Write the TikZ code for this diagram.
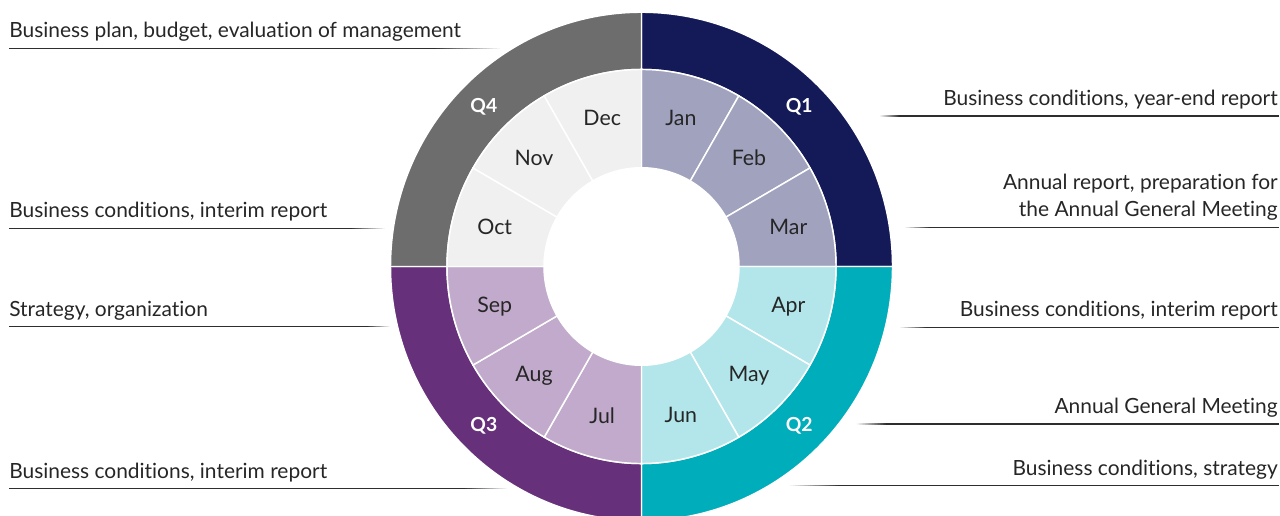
\documentclass[tikz,border=0pt]{standalone}
\usepackage{fontspec}
\setmainfont{Lato}[Ligatures=NoCommon]
\usetikzlibrary{positioning}

\definecolor{qonedark}{HTML}{131A57}
\definecolor{qonelight}{HTML}{A0A2BE}
\definecolor{qtwodark}{HTML}{00ADBB}
\definecolor{qtwolight}{HTML}{B2E6EA}
\definecolor{qthreedark}{HTML}{66307A}
\definecolor{qthreelight}{HTML}{C1AACB}
\definecolor{qfourdark}{HTML}{6D6D6D}
\definecolor{qfourlight}{HTML}{F0F0F0}
\definecolor{labelgray}{HTML}{262626}
\definecolor{rulegray}{HTML}{2E2E2E}

\tikzset{
	sector/.style={draw=white, line width=1.1pt},
	month/.style={font=\fontsize{16}{19}\selectfont, text=labelgray},
	quarter/.style={font=\bfseries\fontsize{14.5}{17}\selectfont, text=white},
	topic/.style={font=\fontsize{15.7}{20.3}\selectfont, text=labelgray, inner sep=0pt},
	rule/.style={line width=1.05pt},
}

\begin{document}
\begin{tikzpicture}[x=0.75pt,y=0.75pt]
	\useasboundingbox (0,0) rectangle (1280,515);
	\clip (0,0) rectangle (1280,515);
	
	\begin{scope}[shift={(641.5,248.5)}, yscale=1.013]
		% outer ring: the four quarters
		\foreach \q/\col in {1/qonedark, 2/qtwodark, 3/qthreedark, 4/qfourdark}{
			\pgfmathsetmacro\qa{90-90*(\q-1)}
			\pgfmathsetmacro\qb{90-90*\q}
			\filldraw[sector, fill=\col] (\qa:194.5) arc[start angle=\qa, end angle=\qb, radius=194.5]
				-- (\qb:251) arc[start angle=\qb, end angle=\qa, radius=251] -- cycle;
			\node[quarter] (q\q) at ({45-90*(\q-1)}:223) {Q\q};
		}
		
		% inner ring: the twelve months
		\foreach \name/\col [count=\k] in {Jan/qonelight, Feb/qonelight, Mar/qonelight,
			Apr/qtwolight, May/qtwolight, Jun/qtwolight,
			Jul/qthreelight, Aug/qthreelight, Sep/qthreelight,
			Oct/qfourlight, Nov/qfourlight, Dec/qfourlight}{
			\pgfmathsetmacro\ma{90-30*(\k-1)}
			\pgfmathsetmacro\mb{90-30*\k}
			\filldraw[sector, fill=\col] (\ma:97.5) arc[start angle=\ma, end angle=\mb, radius=97.5]
				-- (\mb:194.5) arc[start angle=\mb, end angle=\ma, radius=194.5] -- cycle;
			\node[month] (m\k) at ({105-30*\k}:152) {\name};
		}
	\end{scope}
	
	% left topics with underlines fading towards the wheel
	\foreach \y/\xd/\xe/\txt [count=\i] in {
		466.7/433/500/{Business plan, budget, evaluation of management},
		286.7/350/385/{Business conditions, interim report},
		188.3/367/390/{Strategy, organization},
		26.3/463/507/{Business conditions, interim report}}{
		\node[topic, anchor=base west] (lt\i) at (9,\y+10.5) {\txt};
		\draw[rule, rulegray] (9,\y) -- (\xd,\y);
		\foreach \t in {0,...,19}{
			\pgfmathsetmacro\fa{\xd+(\xe-\xd)*\t/20}
			\pgfmathsetmacro\fb{\xd+(\xe-\xd)*(\t+1)/20}
			\pgfmathtruncatemacro\fk{100-5*\t}
			\draw[rule, rulegray!\fk!white] (\fa,\y) -- (\fb,\y);
		}
	}
	
	% right topics
	\foreach \y/\xs/\xd/\txt [count=\i] in {
		399/880/900/{Business conditions, year-end report},
		287.7/905/930/{Annual report, preparation for\\the Annual General Meeting},
		187.7/900/927/{Business conditions, interim report},
		91/857/887/{Annual General Meeting},
		29.3/790/840/{Business conditions, strategy}}{
		\node[topic, anchor=base east, align=right] (rt\i) at (1278,\y+10.5) {\txt};
		\foreach \t in {0,...,19}{
			\pgfmathsetmacro\fa{\xs+(\xd-\xs)*\t/20}
			\pgfmathsetmacro\fb{\xs+(\xd-\xs)*(\t+1)/20}
			\pgfmathtruncatemacro\fk{5*(\t+1)}
			\draw[rule, rulegray!\fk!white] (\fa,\y) -- (\fb,\y);
		}
		\draw[rule, rulegray] (\xd,\y) -- (1279,\y);
	}
\end{tikzpicture}
\end{document}
